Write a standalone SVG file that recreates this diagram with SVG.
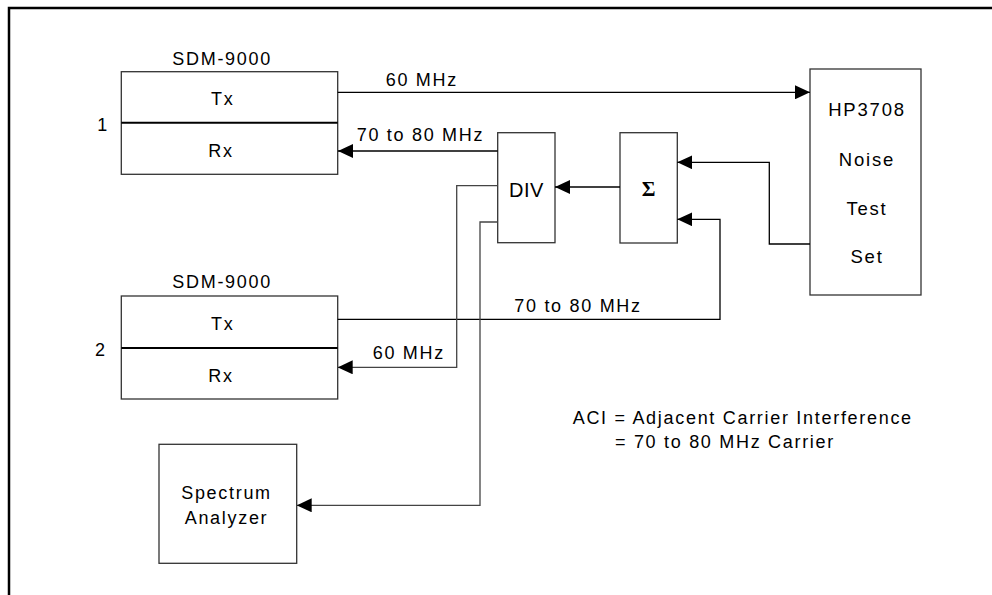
<svg xmlns="http://www.w3.org/2000/svg" width="992" height="595" viewBox="0 0 992 595">
<style>
.box{fill:#fff;stroke:#333;stroke-width:1.3}
.div{stroke:#000;stroke-width:2;fill:none}
.t{font-family:"Liberation Sans",Arial,sans-serif;font-size:18px;letter-spacing:1.7px;fill:#000}
.hp{font-family:"Liberation Sans",Arial,sans-serif;font-size:18.5px;letter-spacing:1.8px;fill:#000;text-anchor:middle}
.c{fill:none;stroke:#000;stroke-width:1.3}
.g{fill:none;stroke:#444;stroke-width:1.3}
</style>
<defs>
<marker id="ah" markerUnits="userSpaceOnUse" markerWidth="15" markerHeight="14" refX="15" refY="7" orient="auto">
<path d="M0,0 L15,7 L0,14 z" fill="#000"/>
</marker>
</defs>
<rect width="992" height="595" fill="#fff"/>
<path d="M9,595 V8 H992" fill="none" stroke="#000" stroke-width="2.5"/>

<g id="sdm1">
<text class="t" x="172.3" y="65">SDM-9000</text>
<rect class="box" x="121.3" y="71.7" width="216.4" height="102.6"/>
<line class="div" x1="121.3" y1="122.7" x2="337.7" y2="122.7"/>
<text class="t" x="211" y="105.3">Tx</text>
<text class="t" x="208.3" y="157.3">Rx</text>
<text class="t" x="97.3" y="130.7">1</text>
</g>

<g id="sdm2">
<text class="t" x="172.3" y="288.3">SDM-9000</text>
<rect class="box" x="121.3" y="296" width="216.4" height="103"/>
<line class="div" x1="121.3" y1="348" x2="337.7" y2="348"/>
<text class="t" x="211" y="330">Tx</text>
<text class="t" x="208.3" y="381.7">Rx</text>
<text class="t" x="95" y="355.7">2</text>
</g>

<g id="divider">
<rect class="box" x="497.7" y="132.7" width="57.3" height="110"/>
<text x="526.5" y="197.3" text-anchor="middle" font-family="'Liberation Sans',Arial,sans-serif" font-size="20" letter-spacing="0.5">DIV</text>
</g>

<g id="sum">
<rect class="box" x="620" y="132.7" width="57.3" height="110.3"/>
<text x="648.5" y="196" text-anchor="middle" font-family="'Liberation Serif','Times New Roman',serif" font-size="21" font-weight="bold">Σ</text>
</g>

<g id="hp3708">
<rect class="box" x="810" y="69" width="111" height="226"/>
<text class="hp" x="867" y="115.7">HP3708</text>
<text class="hp" x="867" y="166">Noise</text>
<text class="hp" x="867" y="215">Test</text>
<text class="hp" x="867" y="263">Set</text>
</g>

<g id="spectrum">
<rect class="box" x="159" y="444.3" width="137.7" height="119"/>
<text class="t" x="226.5" y="499" text-anchor="middle">Spectrum</text>
<text class="t" x="226.5" y="524" text-anchor="middle">Analyzer</text>
</g>

<g id="connectors">
<path class="c" d="M337.7,92.3 H810" marker-end="url(#ah)"/>
<path class="c" d="M497.7,151 H338" marker-end="url(#ah)"/>
<path class="c" d="M620,187 H555" marker-end="url(#ah)"/>
<path class="c" d="M810,244 H769.3 V162.3 H677.3" marker-end="url(#ah)"/>
<path class="c" d="M337.7,319.3 H720 V219.3 H677.3" marker-end="url(#ah)"/>
<path class="g" d="M497.7,185.7 H456.7 V367.3 H337.7" marker-end="url(#ah)"/>
<path class="g" d="M497.7,222 H480 V505.3 H296.7" marker-end="url(#ah)"/>
</g>

<g id="labels">
<text class="t" x="385.7" y="85.7">60 MHz</text>
<text class="t" x="356.7" y="140.7">70 to 80 MHz</text>
<text class="t" x="514.3" y="311.7">70 to 80 MHz</text>
<text class="t" x="372.7" y="359.3">60 MHz</text>
<text class="t" x="572.7" y="424">ACI = Adjacent Carrier Interference</text>
<text class="t" x="615" y="448.3">= 70 to 80 MHz Carrier</text>
</g>
</svg>
